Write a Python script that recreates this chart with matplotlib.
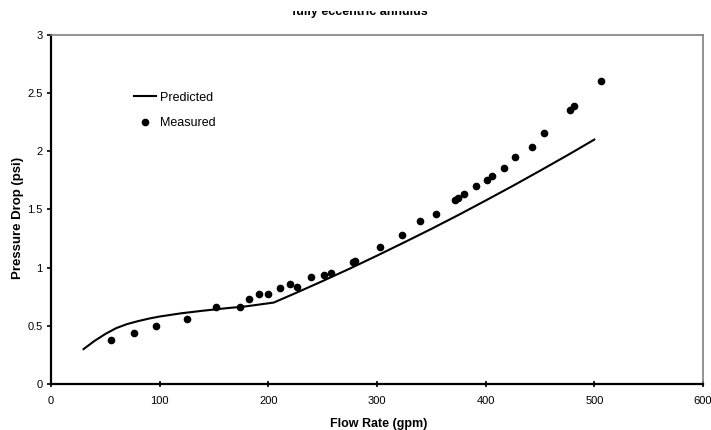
import matplotlib
matplotlib.use("Agg")
import matplotlib.pyplot as plt
from matplotlib.patches import Rectangle

plt.rcParams['font.family'] = ['Liberation Sans', 'DejaVu Sans']

# Predicted pressure drop curve
pred_flow = [30, 40, 50, 60, 70, 80, 90, 100, 120, 140, 160, 180, 205,
             225, 250, 275, 300, 325, 350, 375, 400, 425, 450, 475, 500]
pred_dp = [0.30, 0.37, 0.43, 0.48, 0.515, 0.54, 0.562, 0.58, 0.608, 0.63,
           0.65, 0.668, 0.70, 0.781, 0.885, 0.992, 1.103, 1.217, 1.333,
           1.453, 1.577, 1.703, 1.833, 1.965, 2.101]

# Measured points
meas_flow = [55, 76, 97, 125, 152, 174, 182, 191, 200, 211, 220, 226, 239,
             251, 258, 278, 280, 303, 323, 340, 354, 372, 375, 380, 391,
             401, 406, 417, 427, 443, 454, 478, 481, 506]
meas_dp = [0.38, 0.44, 0.50, 0.56, 0.66, 0.665, 0.733, 0.771, 0.771, 0.825,
           0.86, 0.837, 0.922, 0.937, 0.957, 1.05, 1.06, 1.18, 1.284, 1.404,
           1.461, 1.579, 1.596, 1.633, 1.699, 1.756, 1.791, 1.86, 1.948,
           2.04, 2.155, 2.358, 2.387, 2.607]

fig = plt.figure(figsize=(7.11, 4.30), dpi=100)
ax = fig.add_axes([0.0717, 0.107, 0.917, 0.8116])

ax.plot(pred_flow, pred_dp, color='black', lw=1.5, label='Predicted')
ax.plot(meas_flow, meas_dp, 'o', color='black', markersize=4.5,
        label='Measured')

ax.set_xlim(0, 600)
ax.set_ylim(0, 3)
ax.set_xticks([0, 100, 200, 300, 400, 500, 600])
ax.set_yticks([0, 0.5, 1, 1.5, 2, 2.5, 3])
ax.set_yticklabels(['0', '0.5', '1', '1.5', '2', '2.5', '3'])

for side in ['left', 'bottom']:
    ax.spines[side].set_linewidth(1.6)
    ax.spines[side].set_color('black')
for side in ['top', 'right']:
    ax.spines[side].set_linewidth(1.2)
    ax.spines[side].set_color('#808080')

ax.tick_params(axis='x', direction='inout', length=5, width=1.2,
               labelsize=8, pad=6)
ax.tick_params(axis='y', direction='out', length=3, width=1.2,
               labelsize=8, pad=3)

ax.set_xlabel('Flow Rate (gpm)', fontsize=9, fontweight='bold')
ax.set_ylabel('Pressure Drop (psi)', fontsize=9.5, fontweight='bold')
ax.xaxis.set_label_coords(0.503, -0.097)
ax.yaxis.set_label_coords(-0.041, 0.476)

leg = ax.legend(loc='upper left', bbox_to_anchor=(0.118, 0.855),
                frameon=False, fontsize=9, handlelength=1.76,
                handletextpad=0.3, labelspacing=1.07, borderpad=0)

# chart title, its top edge sits under the border of the chart area
fig.text(360 / 711, 1 - 15 / 430, 'fully eccentric annulus',
         ha='center', va='baseline', fontsize=9, fontweight='bold')
fig.patches.append(Rectangle((0, 1 - 10.5 / 430), 1, 10.5 / 430,
                             transform=fig.transFigure, facecolor='white',
                             edgecolor='none', zorder=10))

fig.savefig('out.png', dpi=100)
